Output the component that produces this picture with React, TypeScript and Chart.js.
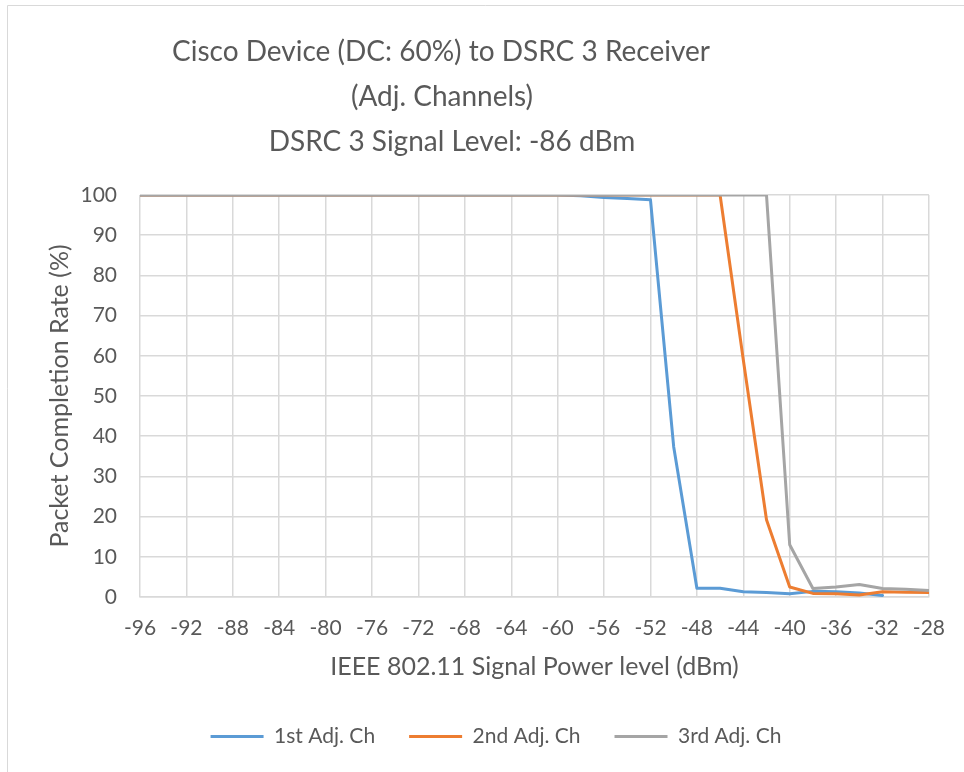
import React, { useEffect, useRef } from "react";
import { Chart, registerables } from "chart.js";

Chart.register(...registerables);

const xValues = [
  -96, -94, -92, -90, -88, -86, -84, -82, -80, -78, -76, -74, -72, -70, -68, -66, -64, -62,
  -60, -58, -56, -54, -52, -50, -48, -46, -44, -42, -40, -38, -36, -34, -32, -30, -28,
];

const firstAdj = [
  100, 100, 100, 100, 100, 100, 100, 100, 100, 100, 100, 100, 100, 100, 100, 100, 100, 100,
  100, 99.8, 99.4, 99.1, 98.8, 37.4, 2.2, 2.2, 1.3, 1.1, 0.8, 1.4, 1.3, 1.0, 0.4, null, null,
];

const secondAdj = [
  100, 100, 100, 100, 100, 100, 100, 100, 100, 100, 100, 100, 100, 100, 100, 100, 100, 100,
  100, 100, 100, 100, 100, 100, 100, 100, 59, 19.2, 2.5, 0.9, 0.8, 0.5, 1.3, 1.2, 1.1,
];

const thirdAdj = [
  100, 100, 100, 100, 100, 100, 100, 100, 100, 100, 100, 100, 100, 100, 100, 100, 100, 100,
  100, 100, 100, 100, 100, 100, 100, 100, 100, 100, 13, 2.1, 2.5, 3.1, 2.1, 1.9, 1.6,
];

const seriesNames = ["1st Adj. Ch", "2nd Adj. Ch", "3rd Adj. Ch"];
const seriesColors = ["#5B9BD5", "#ED7D31", "#A5A5A5"];

const titleLines = [
  "Cisco Device (DC: 60%) to DSRC 3 Receiver",
  "(Adj. Channels)",
  "DSRC 3 Signal Level: -86 dBm",
];
const xTitle = "IEEE 802.11 Signal Power level (dBm)";
const yTitle = "Packet Completion Rate (%)";

const TEXT = "#595959";
const GRID = "#D9D9D9";
const FONT = "Lato, 'Open Sans', sans-serif";

const toPoints = (ys: (number | null)[]) => xValues.map((x, i) => ({ x, y: ys[i] }));

const decorPlugin = {
  id: "decor",
  afterLayout(chart: any) {
    const lg = chart.legend;
    if (lg) {
      lg.left += 26;
      lg.right += 26;
    }
  },
  afterDraw(chart: any) {
    const ctx = chart.ctx;
    ctx.save();
    ctx.strokeStyle = GRID;
    ctx.lineWidth = 1;
    ctx.beginPath();
    ctx.moveTo(7.5, 772);
    ctx.lineTo(7.5, 5.5);
    ctx.lineTo(964, 5.5);
    ctx.stroke();
    ctx.fillStyle = TEXT;
    ctx.font = `28px ${FONT}`;
    ctx.textAlign = "center";
    ctx.textBaseline = "alphabetic";
    const baselines = [61, 106, 151];
    const centers = [441, 442, 452];
    titleLines.forEach((t, i) => ctx.fillText(t, centers[i], baselines[i]));
    ctx.restore();
  },
};

export default function App() {
  const ref = useRef<HTMLCanvasElement>(null);
  useEffect(() => {
    if (!ref.current) return;
    const datasets = [firstAdj, secondAdj, thirdAdj].map((d, i) => ({
      label: seriesNames[i],
      data: toPoints(d),
      borderColor: seriesColors[i],
      backgroundColor: seriesColors[i],
      borderWidth: 3,
      pointRadius: 0,
      pointHoverRadius: 0,
      tension: 0,
      borderJoinStyle: "round" as const,
      borderCapStyle: "round" as const,
      fill: false,
      order: 2 - i,
    }));
    const chart = new Chart(ref.current, {
      type: "line",
      data: { datasets },
      plugins: [decorPlugin],
      options: {
        animation: false,
        responsive: true,
        maintainAspectRatio: false,
        layout: { padding: { top: 195, left: 10, right: 34, bottom: 15 } },
        plugins: {
          tooltip: { enabled: false },
          title: { display: false },
          legend: {
            position: "bottom",
            labels: {
              color: TEXT,
              font: { family: FONT, size: 21 },
              usePointStyle: true,
              pointStyle: "line",
              pointStyleWidth: 53,
              padding: 34,
              sort: (a: any, b: any) => a.datasetIndex - b.datasetIndex,
            },
          },
        },
        scales: {
          x: {
            type: "linear",
            min: -96,
            max: -28,
            afterFit: (s: any) => {
              s.height = 95;
            },
            ticks: {
              stepSize: 4,
              autoSkip: false,
              maxRotation: 0,
              color: TEXT,
              padding: 19,
              font: { family: FONT, size: 21 },
            },
            grid: { color: GRID, lineWidth: 1.5, drawTicks: false },
            border: { color: GRID, width: 1.5 },
            title: {
              display: true,
              text: xTitle,
              color: TEXT,
              font: { family: FONT, size: 25 },
              padding: { top: 0, bottom: 10 },
            },
          },
          y: {
            min: 0,
            max: 100,
            afterFit: (s: any) => {
              s.width = 130;
            },
            ticks: {
              stepSize: 10,
              color: TEXT,
              padding: 23,
              font: { family: FONT, size: 21 },
            },
            grid: { color: GRID, lineWidth: 1.5, drawTicks: false },
            border: { display: false },
            title: {
              display: true,
              text: yTitle,
              color: TEXT,
              font: { family: FONT, size: 25 },
              padding: { top: 35, bottom: 0 },
            },
          },
        },
      },
    });
    return () => chart.destroy();
  }, []);
  return (
    <div style={{ position: "absolute", left: 0, top: 0, width: 964, height: 772, background: "#fff" }}>
      <canvas ref={ref} />
    </div>
  );
}
